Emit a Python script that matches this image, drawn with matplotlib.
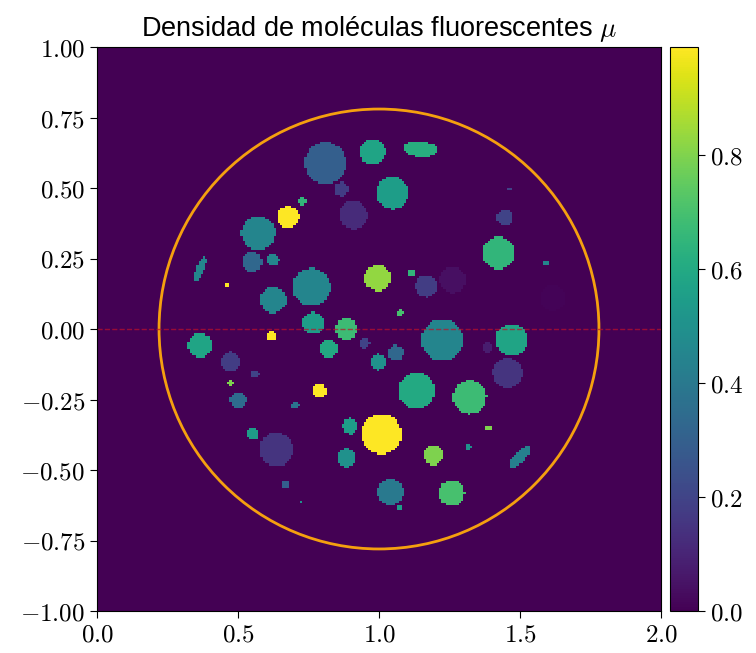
import numpy as np
import matplotlib
matplotlib.use('Agg')
import matplotlib.pyplot as plt
from matplotlib.patches import Circle
from matplotlib.ticker import FuncFormatter

plt.rcParams['mathtext.fontset'] = 'cm'

# grid of the image
n = 256
x_range = (0.0, 2.0)
y_range = (-1.0, 1.0)

# round spots: centre x, centre y, radius, density
cx = [0.809, 0.975, 0.865, 1.046, 0.727, 0.908, 0.677, 0.571, 0.550, 0.624,
      0.461, 0.759, 0.993, 0.624, 1.074, 0.766, 0.883, 0.365, 0.617, 0.472,
      0.560, 0.472, 0.500, 0.702, 0.787, 0.819, 0.947, 0.996, 1.057, 1.131,
      1.007, 0.897, 0.883, 0.553, 0.635, 0.667, 0.723, 1.039, 1.071, 1.461,
      1.443, 1.422, 1.592, 1.113, 1.167, 1.259, 1.613, 1.223, 1.468, 1.383,
      1.454, 1.319, 1.387, 1.316, 1.191, 1.255]
cy = [0.589, 0.628, 0.496, 0.482, 0.454, 0.404, 0.397, 0.340, 0.238, 0.245,
      0.156, 0.149, 0.181, 0.103, 0.057, 0.021, 0.000, -0.057, -0.025, -0.117,
      -0.160, -0.191, -0.252, -0.270, -0.220, -0.071, -0.050, -0.117, -0.085, -0.220,
      -0.372, -0.344, -0.457, -0.372, -0.426, -0.550, -0.613, -0.578, -0.631, 0.496,
      0.394, 0.270, 0.234, 0.199, 0.152, 0.174, 0.110, -0.039, -0.039, -0.067,
      -0.156, -0.241, -0.351, -0.418, -0.447, -0.582]
cr = [0.074, 0.046, 0.025, 0.057, 0.014, 0.050, 0.039, 0.060, 0.035, 0.021,
      0.009, 0.067, 0.046, 0.046, 0.010, 0.039, 0.039, 0.043, 0.016, 0.035,
      0.015, 0.010, 0.028, 0.013, 0.025, 0.032, 0.018, 0.028, 0.028, 0.064,
      0.071, 0.028, 0.032, 0.021, 0.060, 0.013, 0.006, 0.046, 0.010, 0.005,
      0.028, 0.057, 0.011, 0.014, 0.039, 0.046, 0.046, 0.074, 0.057, 0.018,
      0.053, 0.060, 0.011, 0.011, 0.035, 0.046]
cv = [0.30, 0.58, 0.18, 0.55, 0.65, 0.12, 0.99, 0.45, 0.33, 0.45,
      0.99, 0.45, 0.83, 0.45, 0.70, 0.55, 0.68, 0.58, 0.99, 0.18,
      0.20, 0.80, 0.35, 0.38, 0.99, 0.60, 0.20, 0.50, 0.33, 0.60,
      0.99, 0.55, 0.50, 0.55, 0.15, 0.30, 0.50, 0.40, 0.55, 0.20,
      0.20, 0.65, 0.45, 0.65, 0.18, 0.04, 0.01, 0.45, 0.58, 0.08,
      0.15, 0.68, 0.80, 0.50, 0.80, 0.70]

# elongated spots: centre x, centre y, semi-axes, angle (deg), density
ex = [0.365, 1.145, 1.496]
ey = [0.213, 0.638, -0.454]
ea = [0.046, 0.062, 0.053]
eb = [0.014, 0.027, 0.019]
eang = [67, -5, 46]
ev = [0.45, 0.62, 0.43]

# fiber edge
ring_x, ring_y, ring_r = 1.0, 0.0, 0.78

dx = (x_range[1] - x_range[0]) / n
dy = (y_range[1] - y_range[0]) / n
xs = x_range[0] + dx * (np.arange(n) + 0.5)
ys = y_range[0] + dy * (np.arange(n) + 0.5)
X, Y = np.meshgrid(xs, ys)
mu = np.zeros((n, n))
for x0, y0, r, v in zip(cx, cy, cr, cv):
    mu[(X - x0)**2 + (Y - y0)**2 <= r**2] = v
for x0, y0, a, b, t, v in zip(ex, ey, ea, eb, eang, ev):
    t = np.radians(t)
    u = (X - x0) * np.cos(t) + (Y - y0) * np.sin(t)
    w = -(X - x0) * np.sin(t) + (Y - y0) * np.cos(t)
    mu[(u / a)**2 + (w / b)**2 <= 1] = v

fig = plt.figure(figsize=(7.56, 6.53), dpi=100)
ax = fig.add_axes([97/756, 42/653, 564/756, 564/653])
cax = fig.add_axes([670/756, 42/653, 28/756, 564/653])

im = ax.imshow(mu, origin='lower', extent=[*x_range, *y_range], cmap='viridis',
               interpolation='nearest', aspect='auto')
ax.add_patch(Circle((ring_x, ring_y), ring_r, fill=False, color='#f5a00f', lw=2))
ax.axhline(0, color='#c0102a', ls='--', lw=1, alpha=0.7)
ax.set_xlim(*x_range)
ax.set_ylim(*y_range)

ax.set_xticks([0, 0.5, 1.0, 1.5, 2.0])
ax.set_yticks(np.linspace(-1, 1, 9))
ax.xaxis.set_major_formatter(FuncFormatter(lambda v, p: '$%.1f$' % v))
ax.yaxis.set_major_formatter(FuncFormatter(lambda v, p: '$%.2f$' % v))
ax.tick_params(labelsize=18, length=5)

cb = fig.colorbar(im, cax=cax)
cb.set_ticks([0, 0.2, 0.4, 0.6, 0.8])
cb.ax.yaxis.set_major_formatter(FuncFormatter(lambda v, p: '$%.1f$' % v))
cb.ax.tick_params(labelsize=18, length=5)

ax.set_title(r'Densidad de moléculas fluorescentes $\mu$', fontsize=19.5,
             family='Liberation Sans', pad=8)

fig.savefig('out.png', dpi=100)
